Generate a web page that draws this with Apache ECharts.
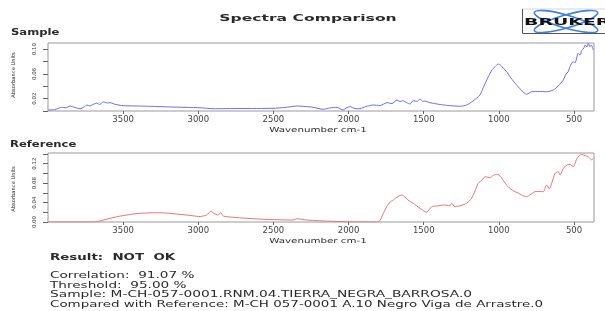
<!DOCTYPE html>
<html>
<head>
<meta charset="utf-8">
<script src="https://cdn.jsdelivr.net/npm/echarts@6/dist/echarts.min.js"></script>
<style>html,body{margin:0;padding:0;background:#fff;}#c{width:605px;height:311px;}</style>
</head>
<body>
<div id="c"></div>
<script>
// ---- Data ----
const xTicks = [500, 1000, 1500, 2000, 2500, 3000, 3500];
const sampleYTicks = [0, 0.02, 0.04, 0.06, 0.08, 0.10];
const sampleYLabels = [0.02, 0.06, 0.10];
const refYTicks = [0, 0.02, 0.04, 0.06, 0.08, 0.10, 0.12, 0.14];
const refYLabels = [0, 0.04, 0.08, 0.12];

const sampleWn = [4000,3953,3909,3880,3854,3820,3787,3760,3742,3721,3701,3676,3654,3632,3607,3587,3567,3554,3501,3421,3321,3188,2989,2902,2722,2503,2423,2343,2290,2237,2170,2124,2077,2037,2010,1990,1957,1924,1884,1837,1791,1744,1711,1678,1658,1638,1613,1591,1571,1544,1525,1505,1492,1465,1438,1392,1347,1259,1214,1172,1126,1099,1070,1046,1026,1004,986,970,946,926,899,871,846,815,799,782,733,682,637,606,571,553,540,527,507,493,473,460,449,434,427,413,405,394,384,376,372];
const sampleAbs = [0.0016,0.0024,0.0060,0.0052,0.0081,0.0057,0.0037,0.0065,0.0097,0.0081,0.0105,0.0125,0.0105,0.0150,0.0129,0.0134,0.0121,0.0108,0.0086,0.0081,0.0076,0.0065,0.0053,0.0037,0.0040,0.0044,0.0057,0.0081,0.0073,0.0060,0.0028,0.0049,0.0060,0.0016,0.0057,0.0070,0.0040,0.0037,0.0073,0.0097,0.0089,0.0134,0.0121,0.0178,0.0154,0.0167,0.0134,0.0113,0.0167,0.0154,0.0194,0.0154,0.0162,0.0138,0.0125,0.0105,0.0092,0.0076,0.0097,0.0162,0.0259,0.0405,0.0555,0.0663,0.0717,0.0760,0.0736,0.0691,0.0631,0.0555,0.0469,0.0393,0.0324,0.0270,0.0291,0.0312,0.0316,0.0312,0.0340,0.0405,0.0502,0.0599,0.0631,0.0717,0.0798,0.0777,0.0934,0.0906,0.0976,0.1019,0.1068,0.1036,0.1095,0.1041,0.1068,0.1015,0.0987];

const refWn = [4000,3701,3654,3587,3534,3476,3414,3343,3255,3168,3077,2989,2944,2915,2900,2867,2851,2834,2769,2569,2370,2345,2279,2170,2012,1813,1791,1771,1746,1724,1702,1678,1647,1625,1605,1570,1525,1480,1447,1412,1370,1325,1314,1292,1252,1214,1181,1159,1137,1112,1092,1059,1039,1015,999,981,948,926,893,866,837,813,793,760,726,704,682,664,646,626,604,593,571,546,527,504,482,467,449,427,405,382,371];
const refAbs = [0,0,0.0021,0.0076,0.0113,0.0144,0.0171,0.0185,0.0191,0.0171,0.0144,0.0113,0.0144,0.0226,0.0179,0.0144,0.0191,0.0123,0.0097,0.0056,0.0041,0.0068,0.0041,0.0021,0.0006,0,0.0031,0.0165,0.0315,0.0412,0.0453,0.0515,0.0556,0.0515,0.0453,0.0385,0.0282,0.0200,0.0315,0.0329,0.0350,0.0335,0.0385,0.0315,0.0340,0.0385,0.0488,0.0638,0.0796,0.0864,0.0932,0.0912,0.0957,0.0982,0.0967,0.0899,0.0761,0.0689,0.0624,0.0587,0.0535,0.0525,0.0556,0.0624,0.0628,0.0624,0.0761,0.0679,0.0823,0.1002,0.1035,0.0967,0.1105,0.1173,0.1187,0.1138,0.1297,0.1358,0.1393,0.1365,0.1344,0.1276,0.1311];

const titleText = 'Spectra Comparison';
const sampleTitle = 'Sample';
const refTitle = 'Reference';
const yName = 'Absorbance Units';
const xName = 'Wavenumber cm-1';
const resultText = 'Result:  NOT  OK';
const infoLines = [
  'Correlation:  91.07 %',
  'Threshold:  95.00 %',
  'Sample: M-CH-057-0001.RNM.04.TIERRA_NEGRA_BARROSA.0',
  'Compared with Reference: M-CH 057-0001 A.10 Negro Viga de Arrastre.0'
];

// ---- Chart ----
const FONT = 'DejaVu Sans';
const chart = echarts.init(document.getElementById('c'), null, {renderer: 'canvas'});

function xAxisCfg(gi) {
  return {
    type: 'value', gridIndex: gi, inverse: true, min: 367, max: 4000,
    axisLine: {show: false}, splitLine: {show: false},
    axisTick: {show: true, customValues: xTicks, length: 3, lineStyle: {color: '#666', width: 1}},
    axisLabel: {customValues: xTicks, fontSize: 8.5, fontFamily: FONT, color: '#444', margin: 4,
      formatter: v => String(v)}
  };
}
function yAxisCfg(gi, max, ticks, labels) {
  return {
    type: 'value', gridIndex: gi, min: 0, max: max,
    axisLine: {show: false}, splitLine: {show: false},
    axisTick: {show: true, customValues: ticks, length: 5, lineStyle: {color: '#666', width: 1}},
    axisLabel: {customValues: labels, rotate: 90, fontSize: 5.5, fontFamily: FONT, color: '#444', margin: 10,
      formatter: v => v.toFixed(2)}
  };
}
function txt(x, y, text, size, opts) {
  opts = opts || {};
  return {
    type: 'text', x: x, y: y, scaleX: opts.sx || 1, rotation: opts.rot || 0, silent: true,
    style: {text: text, fontSize: size, fontFamily: FONT, fontWeight: opts.bold ? 'bold' : 'normal',
      fill: opts.fill || '#2a2a2a', align: opts.align || 'left', verticalAlign: 'middle'}
  };
}

const graphics = [
  txt(308, 19, titleText, 9.5, {bold: true, sx: 1.64, align: 'center'}),
  txt(11, 33, sampleTitle, 8, {bold: true, sx: 1.45}),
  txt(10, 145, refTitle, 8, {bold: true, sx: 1.45}),
  txt(14, 75, yName, 5.2, {rot: Math.PI / 2, align: 'center'}),
  txt(14, 189, yName, 5.2, {rot: Math.PI / 2, align: 'center'}),
  txt(318, 130, xName, 7, {sx: 1.47, align: 'center'}),
  txt(318, 241, xName, 7, {sx: 1.47, align: 'center'}),
  txt(50, 258, resultText, 8, {bold: true, sx: 1.67}),
  txt(50, 276, infoLines[0], 8, {sx: 1.7}),
  txt(50, 285.5, infoLines[1], 8, {sx: 1.7}),
  txt(50, 295, infoLines[2], 8, {sx: 1.72}),
  txt(50, 304.5, infoLines[3], 8, {sx: 1.68}),
  // Bruker logo
  {type: 'line', shape: {x1: 522.5, y1: 9, x2: 522.5, y2: 33.5}, style: {stroke: '#555', lineWidth: 1}, silent: true},
  {type: 'line', shape: {x1: 522.5, y1: 33.5, x2: 605, y2: 33.5}, style: {stroke: '#555', lineWidth: 1}, silent: true},
  {type: 'line', shape: {x1: 522.5, y1: 9, x2: 605, y2: 9}, style: {stroke: '#bbb', lineWidth: 0.6}, silent: true},
  {type: 'ellipse', x: 566, y: 21.5, rotation: 0.28, shape: {cx: 0, cy: 0, rx: 33, ry: 6.5},
    style: {fill: 'none', stroke: '#3f7fe0', lineWidth: 1.6}, silent: true},
  {type: 'ellipse', x: 566, y: 21.5, rotation: -0.28, shape: {cx: 0, cy: 0, rx: 33, ry: 6.5},
    style: {fill: 'none', stroke: '#3f7fe0', lineWidth: 1.6}, silent: true},
  txt(524, 23, 'BRUKER', 9, {bold: true, sx: 2.1, fill: '#111'})
];

chart.setOption({
  animation: false,
  backgroundColor: '#fff',
  grid: [
    {left: 48, top: 43, width: 546, height: 68, show: true, borderColor: '#999', borderWidth: 1},
    {left: 48, top: 153, width: 546, height: 69, show: true, borderColor: '#999', borderWidth: 1}
  ],
  xAxis: [xAxisCfg(0), xAxisCfg(1)],
  yAxis: [
    yAxisCfg(0, 0.11, sampleYTicks, sampleYLabels),
    yAxisCfg(1, 0.142, refYTicks, refYLabels)
  ],
  series: [
    {type: 'line', xAxisIndex: 0, yAxisIndex: 0, showSymbol: false, smooth: 0.2,
      lineStyle: {color: '#6d6df0', width: 1}, itemStyle: {color: '#6d6df0'},
      data: sampleWn.map((w, i) => [w, sampleAbs[i]])},
    {type: 'line', xAxisIndex: 1, yAxisIndex: 1, showSymbol: false, smooth: 0.2,
      lineStyle: {color: '#ee7070', width: 1}, itemStyle: {color: '#ee7070'},
      data: refWn.map((w, i) => [w, refAbs[i]])}
  ],
  graphic: graphics
});
</script>
</body>
</html>
